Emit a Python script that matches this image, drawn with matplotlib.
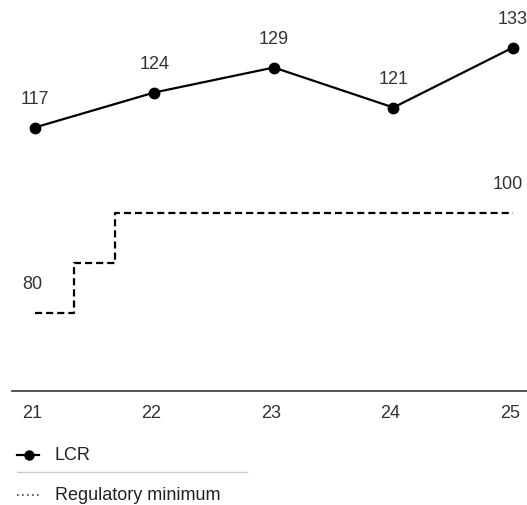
import matplotlib

matplotlib.use("Agg")

import matplotlib.pyplot as plt
from matplotlib.lines import Line2D
from matplotlib.transforms import ScaledTranslation

plt.rcParams["font.family"] = ["Liberation Sans", "DejaVu Sans"]

# LCR by year (two-digit year labels)
years = [21, 22, 23, 24, 25]
lcr = [117, 124, 129, 121, 133]

# regulatory minimum, phased in with steps
reg_x = [21, 21.33, 21.67, 25]
reg_y = [80, 90, 100, 100]

tick_labels = ["21", "22", "23", "24", "25"]

W, H = 527, 505
fig = plt.figure(figsize=(W / 100, H / 100), dpi=100)
# axes spans from x=12px to right edge, y=0 to 391px (from top)
ax = fig.add_axes([12 / W, 1 - 391 / H, 1 - 12 / W, 391 / H])
ax.set_xlim(20.81, 25.117)
ax.set_ylim(64.3, 142.5)

ax.step(reg_x, reg_y, where="post", color="black", linewidth=1.6,
        linestyle=(0, (3.2, 1.8)))
ax.plot(years, lcr, color="black", linewidth=1.6, marker="o", markersize=7.5)

label_color = "#333333"
fs = 13
for x, v in zip(years, lcr):
    ax.annotate(str(v), (x, v), xytext=(0, 20), textcoords="offset points",
                ha="center", va="center", fontsize=fs, color=label_color)
ax.annotate(str(reg_y[0]), (reg_x[0], reg_y[0]), xytext=(-2, 20),
            textcoords="offset points", ha="center", va="center",
            fontsize=fs, color=label_color)
ax.annotate(str(reg_y[-1]), (reg_x[-1], reg_y[-1]), xytext=(-4, 20),
            textcoords="offset points", ha="center", va="center",
            fontsize=fs, color=label_color)

for side in ("top", "right", "left"):
    ax.spines[side].set_visible(False)
ax.spines["bottom"].set_color("#333333")
ax.spines["bottom"].set_linewidth(1.2)
ax.set_yticks([])
ax.set_xticks(years)
ax.set_xticklabels(tick_labels, fontsize=fs, color=label_color)
ax.tick_params(axis="x", length=0, pad=10)
shift = ScaledTranslation(-3 / 100, 0, fig.dpi_scale_trans)
for lbl in ax.get_xticklabels():
    lbl.set_transform(lbl.get_transform() + shift)


# legend drawn by hand below the axes
def fx(px):
    return px / W


def fy(py):
    return 1 - py / H


fig.add_artist(Line2D([fx(17), fx(39)], [fy(455), fy(455)], color="black",
                      linewidth=1.6))
fig.add_artist(Line2D([fx(29)], [fy(455)], color="black", marker="o",
                      markersize=6.5, linestyle="none"))
fig.text(fx(55), fy(455), "LCR", fontsize=fs, color="#222222", va="center")
fig.add_artist(Line2D([fx(17), fx(247)], [fy(472), fy(472)],
                      color="#cccccc", linewidth=1))
fig.add_artist(Line2D([fx(17), fx(41)], [fy(495), fy(495)], color="#444444",
                      linewidth=1.2, linestyle=(0, (1, 2))))
fig.text(fx(55), fy(495), "Regulatory minimum", fontsize=fs,
         color="#222222", va="center")

fig.savefig("out.png", dpi=100)
